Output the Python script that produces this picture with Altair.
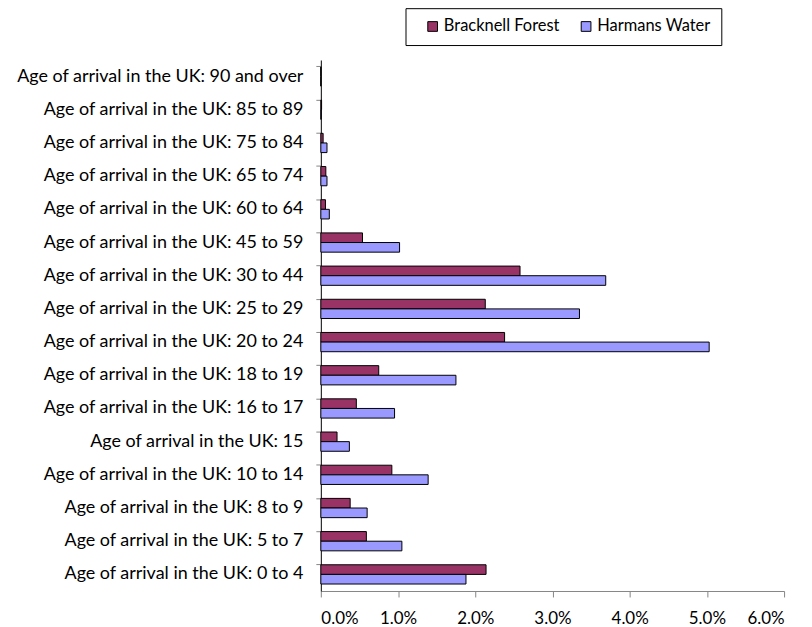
import altair as alt
import pandas as pd

categories = [
    "Age of arrival in the UK: 0 to 4",
    "Age of arrival in the UK: 5 to 7",
    "Age of arrival in the UK: 8 to 9",
    "Age of arrival in the UK: 10 to 14",
    "Age of arrival in the UK: 15",
    "Age of arrival in the UK: 16 to 17",
    "Age of arrival in the UK: 18 to 19",
    "Age of arrival in the UK: 20 to 24",
    "Age of arrival in the UK: 25 to 29",
    "Age of arrival in the UK: 30 to 44",
    "Age of arrival in the UK: 45 to 59",
    "Age of arrival in the UK: 60 to 64",
    "Age of arrival in the UK: 65 to 74",
    "Age of arrival in the UK: 75 to 84",
    "Age of arrival in the UK: 85 to 89",
    "Age of arrival in the UK: 90 and over",
]
series = ["Bracknell Forest", "Harmans Water"]
bracknell = [0.0214, 0.0059, 0.0038, 0.0092, 0.0021, 0.0046, 0.0075, 0.0238,
             0.0213, 0.0258, 0.0054, 0.0006, 0.00065, 0.0003, 0.0001, 0.0]
harmans = [0.0188, 0.0105, 0.0060, 0.0139, 0.0037, 0.00955, 0.0175, 0.0503,
           0.0335, 0.0369, 0.0102, 0.0011, 0.0008, 0.0008, 0.00005, 0.0]
colors = ["#993366", "#9999FF"]

rows = []
for c, b, h in zip(categories, bracknell, harmans):
    rows.append({"cat": c, "series": series[0], "value": b})
    rows.append({"cat": c, "series": series[1], "value": h})
df = pd.DataFrame(rows)

FONT = "Lato"

chart = alt.Chart(df).mark_bar(stroke="black", strokeWidth=1).encode(
    y=alt.Y("cat:N", sort=categories[::-1], title=None,
            scale=alt.Scale(paddingInner=0.42, paddingOuter=0.21),
            axis=alt.Axis(bandPosition=0, domainColor="black", tickColor="#868686",
                          tickSize=5, labelPadding=13, labelFontSize=18, labelFont=FONT,
                          labelColor="black", labelLimit=400)),
    yOffset=alt.YOffset("series:N", sort=series),
    x=alt.X("value:Q", title=None,
            scale=alt.Scale(domain=[0, 0.06], nice=False),
            axis=alt.Axis(format=".1%", values=[0, 0.01, 0.02, 0.03, 0.04, 0.05, 0.06],
                          grid=False, domainColor="#868686", tickColor="#868686",
                          tickSize=6, labelPadding=14, labelFontSize=17, labelFont=FONT,
                          labelColor="black")),
    color=alt.Color("series:N", sort=series,
                    scale=alt.Scale(domain=series, range=colors),
                    legend=alt.Legend(title=None, orient="none", legendX=85, legendY=-52,
                                      direction="horizontal", symbolType="square",
                                      symbolSize=95, symbolStrokeColor="black",
                                      symbolStrokeWidth=1, symbolOffset=9,
                                      labelFontSize=16.5, labelFont=FONT,
                                      labelColor="black", strokeColor="black",
                                      padding=10, columnPadding=9, labelOffset=3)),
).properties(
    width=465, height=533,
    autosize=alt.AutoSizeParams(type="none"),
    padding={"left": 314, "top": 51, "right": 20, "bottom": 45},
).configure_view(stroke=None)

chart.save("out.html", embed_options={"renderer": "svg", "actions": False})
